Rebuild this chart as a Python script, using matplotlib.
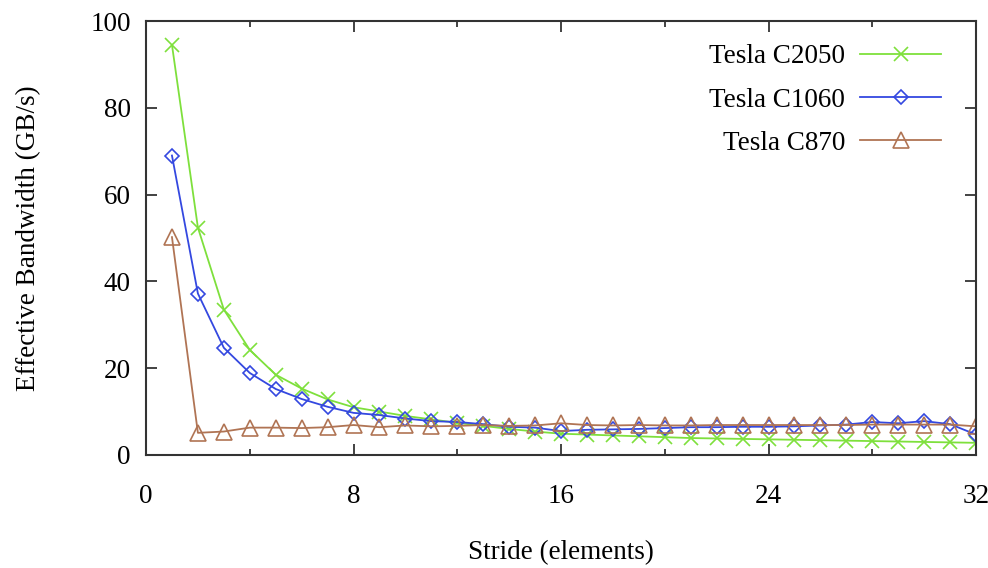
import matplotlib
matplotlib.use("Agg")
import matplotlib.pyplot as plt
from matplotlib.ticker import MultipleLocator

stride = list(range(1, 33))
c2050 = [94.5, 52.4, 33.5, 24.2, 18.5, 15.3, 12.8, 11.0, 10.0, 9.0, 8.2, 7.4, 6.7, 6.0, 5.4, 4.9,
         4.7, 4.5, 4.3, 4.1, 3.9, 3.8, 3.7, 3.6, 3.5, 3.4, 3.3, 3.2, 3.1, 3.0, 2.9, 2.8]
c1060 = [69.0, 37.2, 24.7, 18.9, 15.2, 12.9, 11.1, 9.7, 9.2, 8.4, 7.8, 7.6, 7.1, 6.5, 6.3, 5.5,
         5.8, 5.9, 6.0, 6.2, 6.4, 6.4, 6.5, 6.5, 6.6, 6.8, 7.0, 7.6, 7.3, 7.8, 7.1, 4.7]
c870 = [50.2, 5.1, 5.4, 6.3, 6.3, 6.2, 6.4, 6.9, 6.4, 6.8, 6.6, 6.7, 6.9, 6.7, 6.8, 7.3,
        6.9, 6.8, 6.9, 6.8, 6.8, 6.9, 6.9, 6.9, 6.9, 6.9, 6.9, 7.0, 7.0, 7.0, 7.0, 6.6]
labels = ["Tesla C2050", "Tesla C1060", "Tesla C870"]

plt.rcParams['font.family'] = ['Liberation Serif', 'DejaVu Serif']
FS = 19.5
fig = plt.figure(figsize=(9.88, 5.68), dpi=100)
ax = fig.add_axes([0.1478, 0.199, 0.8401, 0.764])

ax.plot(stride, c2050, color='#7ee03c', lw=1.3, marker='x', ms=10, mew=1.2, label=labels[0])
ax.plot(stride, c1060, color='#3448e0', lw=1.3, marker='D', ms=7, mew=1.2,
        mfc='none', label=labels[1])
ax.plot(stride, c870, color='#b07454', lw=1.3, marker='^', ms=11, mew=1.2,
        mfc='none', label=labels[2])

ax.set_xlim(0, 32)
ax.set_ylim(0, 100)
ax.xaxis.set_major_locator(MultipleLocator(8))
ax.xaxis.set_minor_locator(MultipleLocator(4))
ax.yaxis.set_major_locator(MultipleLocator(20))
ax.tick_params(which='both', direction='in', top=True, right=True, labelsize=FS,
               color='#222222', width=1.2)
ax.tick_params(which='major', length=8)
ax.tick_params(which='minor', length=4.5)
ax.tick_params(axis='x', which='major', pad=21)
ax.tick_params(axis='y', which='major', pad=11)
for s in ax.spines.values():
    s.set_color('#333333')
    s.set_linewidth(1.5)

ax.set_xlabel("Stride (elements)", fontsize=FS)
ax.set_ylabel("Effective Bandwidth (GB/s)", fontsize=FS)
ax.xaxis.set_label_coords(0.5, -0.197)
ax.yaxis.set_label_coords(-0.126, 0.5)

leg = ax.legend(loc='upper right', markerfirst=False, frameon=False, fontsize=FS,
                handlelength=3.0, handletextpad=0.55, labelspacing=0.67,
                borderaxespad=0.0, borderpad=0.0,
                bbox_to_anchor=(0.958, 0.946))

fig.savefig("out.png", dpi=100)
